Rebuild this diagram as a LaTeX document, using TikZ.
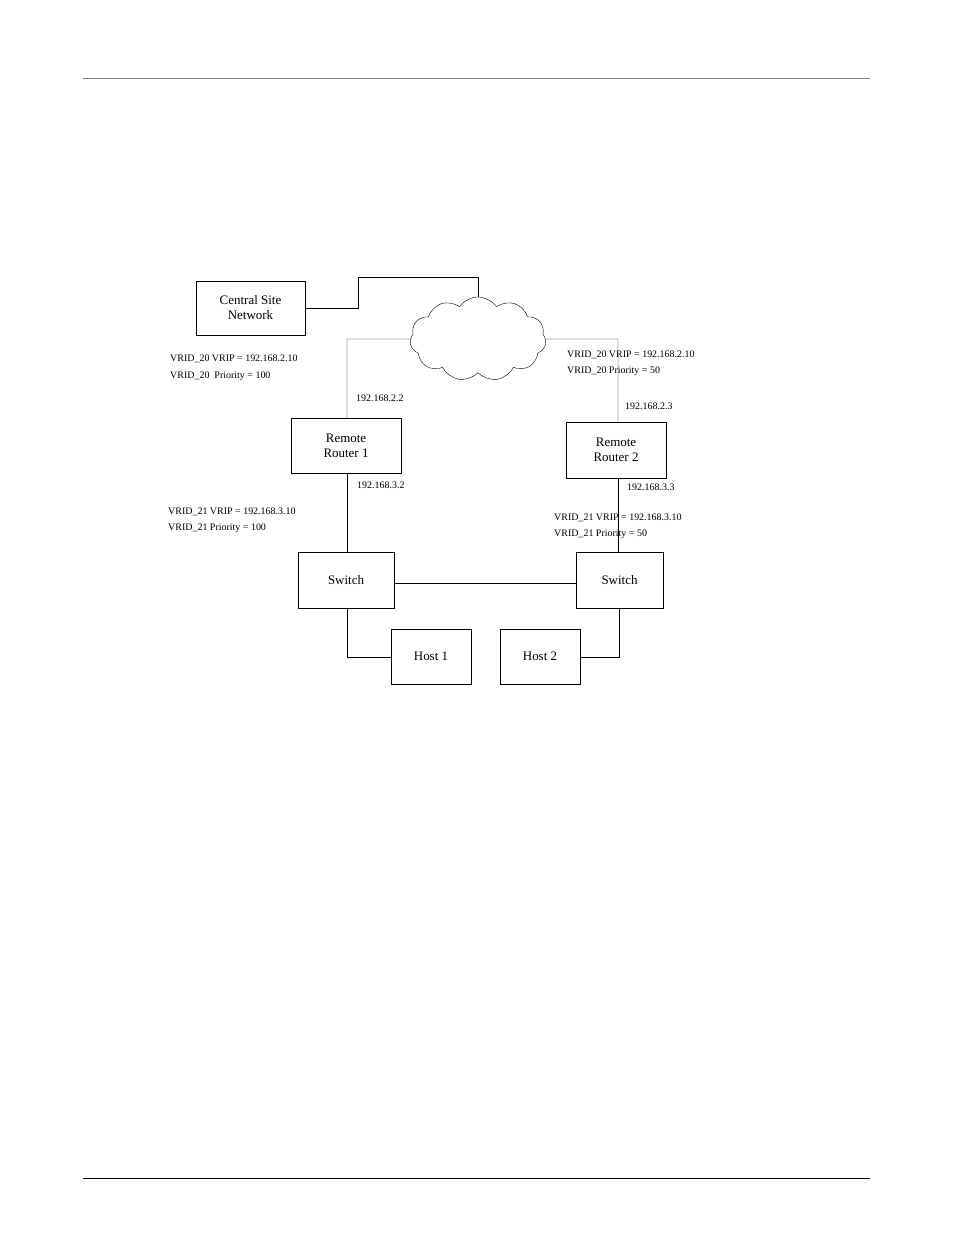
\documentclass[tikz,border=0pt]{standalone}
\usepackage{fontspec}
\setmainfont{Liberation Serif}
\usetikzlibrary{shapes.symbols}
\begin{document}
\begin{tikzpicture}[x=1bp,y=-1bp,
  box/.style={draw,thin,inner sep=0pt,font=\fontsize{13}{15}\selectfont,align=center},
  lbl/.style={anchor=west,inner sep=0pt,font=\fontsize{10}{12}\selectfont},
  wire/.style={draw,thin}]
\useasboundingbox (0,0) rectangle (954,1235);
\draw[thin,gray] (83,78) -- (870,78);
\draw[thin] (83,1178) -- (870,1178);
\node[box,minimum width=109bp,minimum height=54bp] (csn) at (250.5,308) {Central Site\\Network};
\node[draw,thin,cloud,cloud puffs=11,cloud puff arc=110,aspect=1.6,minimum width=136bp,minimum height=84bp,inner sep=0pt] (cloud) at (478,339) {};
\node[box,minimum width=110bp,minimum height=55bp] (r1) at (346,445.5) {Remote\\Router 1};
\node[box,minimum width=100bp,minimum height=56bp] (r2) at (616,450) {Remote\\Router 2};
\node[box,minimum width=96bp,minimum height=56bp] (s1) at (346,580) {Switch};
\node[box,minimum width=87bp,minimum height=56bp] (s2) at (619.5,580) {Switch};
\node[box,minimum width=80bp,minimum height=55bp] (h1) at (431,656.5) {Host 1};
\node[box,minimum width=80bp,minimum height=55bp] (h2) at (540,656.5) {Host 2};
\coordinate (ctop) at (478,297);
\draw[wire] (csn.east) -- (358,308) -- (358,277) -- (478,277) -- (ctop);
\draw[wire] (cloud.west) -- (347,339) -- (r1.north -| 347,0);
\draw[wire] (cloud.east) -- (618,339) -- (r2.north -| 618,0);
\draw[wire] (r1.south -| 347,0) -- (s1.north -| 347,0);
\draw[wire] (r2.south -| 618,0) -- (s2.north -| 618,0);
\draw[wire] (s1.east |- 0,583) -- (s2.west |- 0,583);
\draw[wire] (s1.south -| 347,0) -- (347,657) -- (h1.west |- 0,657);
\draw[wire] (s2.south -| 619,0) -- (619,657) -- (h2.east |- 0,657);
\node[lbl] (a1) at (170,359) {VRID\_20 VRIP = 192.168.2.10};
\node[lbl] (a2) at (170,376) {VRID\_20~ Priority = 100};
\node[lbl] (a3) at (356,398) {192.168.2.2};
\node[lbl] (b1) at (567,355) {VRID\_20 VRIP = 192.168.2.10};
\node[lbl] (b2) at (567,371) {VRID\_20 Priority = 50};
\node[lbl] (b3) at (625,406) {192.168.2.3};
\node[lbl] (c3) at (357,485) {192.168.3.2};
\node[lbl] (d3) at (627,487) {192.168.3.3};
\node[lbl] (c1) at (168,512) {VRID\_21 VRIP = 192.168.3.10};
\node[lbl] (c2) at (168,528) {VRID\_21 Priority = 100};
\node[lbl] (d1) at (554,518) {VRID\_21 VRIP = 192.168.3.10};
\node[lbl] (d2) at (554,534) {VRID\_21 Priority = 50};
\end{tikzpicture}
\end{document}
